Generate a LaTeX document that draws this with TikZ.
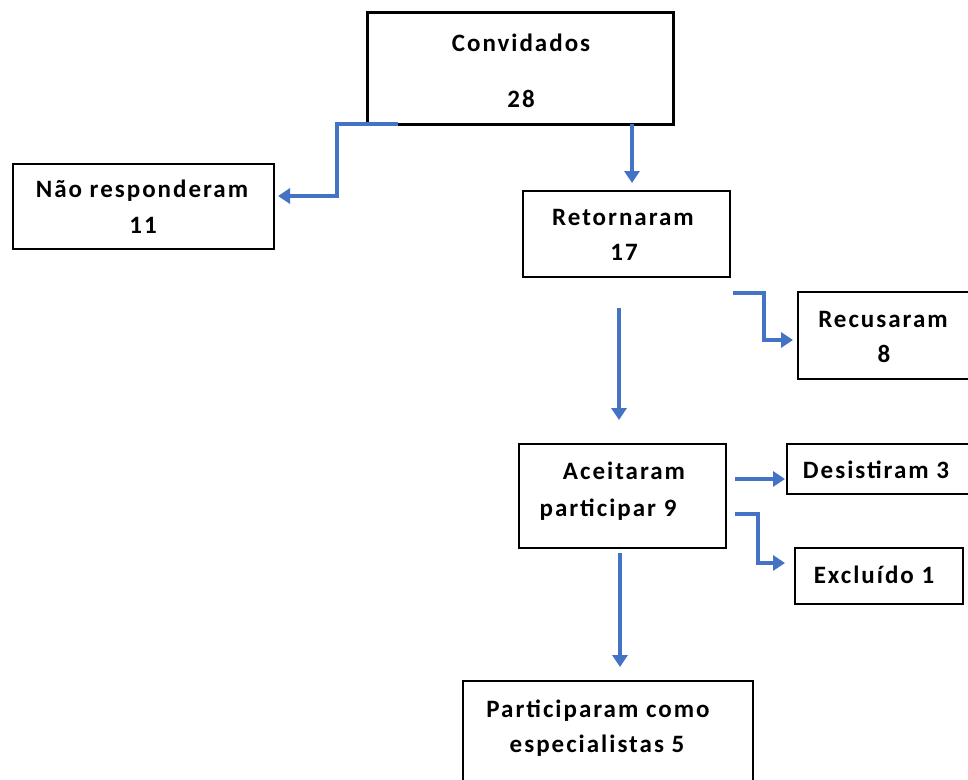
\documentclass[tikz,border=0pt]{standalone}
\usepackage{fontspec}
\setmainfont{Carlito}[LetterSpace=8]
\usetikzlibrary{arrows.meta}
\definecolor{lineblue}{HTML}{4472C4}
\tikzset{
  box/.style={draw=black, line width=1.4pt, rectangle, inner sep=0pt, outer sep=0pt},
  thickbox/.style={draw=black, line width=3pt, rectangle, inner sep=0pt, outer sep=0pt},
  txt/.style={anchor=base, inner sep=0pt, font=\fontsize{25}{30}\selectfont\bfseries},
  arr/.style={draw=lineblue, line width=3.2pt, -{Triangle[length=12pt,width=15pt]}},
}
\begin{document}
\begin{tikzpicture}[x=1pt,y=-1pt]
\useasboundingbox (0,0) rectangle (968,779);
% boxes
\node[thickbox, minimum width=306pt, minimum height=112pt] (conv) at (520,68) {};
\node[box, minimum width=261pt, minimum height=85pt] (nao) at (143.5,206.5) {};
\node[box, minimum width=207pt, minimum height=86pt] (ret) at (626.5,234) {};
\node[box, minimum width=177pt, minimum height=87pt] (rec) at (886.5,335.5) {};
\node[box, minimum width=207pt, minimum height=104pt] (ace) at (622.5,496) {};
\node[box, minimum width=188pt, minimum height=50pt] (des) at (881,469) {};
\node[box, minimum width=168pt, minimum height=56pt] (exc) at (879,576) {};
\node[box, minimum width=290pt, minimum height=119pt] (part) at (608,740.5) {};
% texts
\node[txt] (convA) at (521,51) {Convidados};
\node[txt] (convB) at (521,107) {28};
\node[txt] (naoA) at (142,197) {Não responderam};
\node[txt] (naoB) at (143,233) {11};
\node[txt] (retA) at (623,225) {Retornaram};
\node[txt] (retB) at (624,260) {17};
\node[txt] (recA) at (883,327) {Recusaram};
\node[txt] (recB) at (884,362) {8};
\node[txt] (aceA) at (624,479) {Aceitaram};
\node[txt] (aceB) at (608,516) {participar 9};
\node[txt] (desA) at (876,478) {Desistiram 3};
\node[txt] (excA) at (874,583) {Excluído 1};
\node[txt] (partA) at (598,717) {Participaram como};
\node[txt] (partB) at (597,752) {especialistas 5};
% connectors
\draw[arr] ([xshift=31pt]conv.south west) -- ++(-61,0) |- ([xshift=4pt,yshift=10.5pt]nao.east);
\draw[arr] ([xshift=-41pt]conv.south east) -- ([xshift=5.5pt,yshift=8pt]ret.north);
\draw[arr] ([xshift=3pt,yshift=-16pt]ret.south east) -- ++(31,0) |- ([xshift=-5pt,yshift=-4.5pt]rec.west);
\draw[arr] ([xshift=-7.5pt,yshift=-31pt]ret.south) -- ([xshift=-3.5pt,yshift=24pt]ace.north);
\draw[arr] ([xshift=9pt,yshift=17pt]ace.east) -- ([xshift=-2pt,yshift=-10pt]des.west);
\draw[arr] ([xshift=9pt,yshift=-18pt]ace.east) -- ++(23,0) |- ([xshift=-10pt,yshift=13pt]exc.west);
\draw[arr] ([xshift=-2.5pt,yshift=-5pt]ace.south) -- ([xshift=12pt,yshift=14pt]part.north);
\end{tikzpicture}
\end{document}
